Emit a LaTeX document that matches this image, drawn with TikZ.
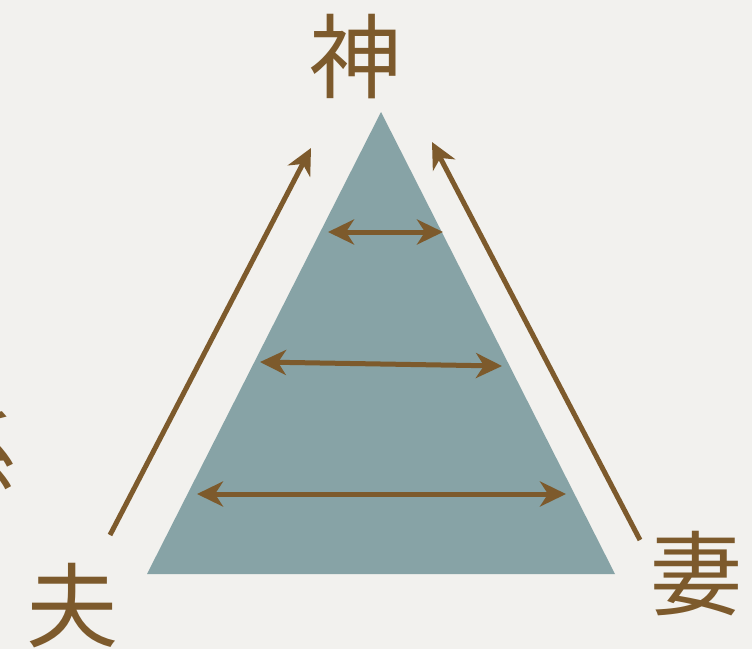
\documentclass[tikz,border=0pt]{standalone}
\usepackage{fontspec}
\newfontfamily\cjk{Noto Sans CJK JP}
\usetikzlibrary{arrows.meta}
\definecolor{bgc}{HTML}{F2F1EE}
\definecolor{tri}{HTML}{87A3A6}
\definecolor{brn}{HTML}{7D5A2C}
\tikzset{
  kanji/.style={text=brn, inner sep=0pt, font=\cjk\fontsize{92}{92}\selectfont},
  arr/.style={draw=brn, line width=5pt, -{Stealth[length=26pt,width=25pt,inset=8pt]}},
  darr/.style={draw=brn, line width=5pt, {Stealth[length=26pt,width=25pt,inset=8pt]}-{Stealth[length=26pt,width=25pt,inset=8pt]}}
}
\begin{document}
\begin{tikzpicture}[x=1pt,y=-1pt]
\fill[bgc] (0,0) rectangle (752,649);
\useasboundingbox (0,0) rectangle (752,649);
\begin{scope}
\clip (0,0) rectangle (752,649);
\node[kanji] (kei) at (-30,452) {係};
\node[kanji] (fu) at (73,606) {夫};
\end{scope}
\node[kanji] (kami) at (355,57) {神};
\node[kanji] (tsuma) at (696,574) {妻};
\coordinate (apex) at (381,112);
\coordinate (bl) at (147,574);
\coordinate (br) at (615,574);
\fill[tri] (apex) -- (bl) -- (br) -- cycle;
\coordinate (la) at (110,535);
\coordinate (lb) at (311,148);
\coordinate (ra) at (640,540);
\coordinate (rb) at (432,142);
\draw[arr] (la) -- (lb);
\draw[arr] (ra) -- (rb);
\coordinate (t1) at (328,232);
\coordinate (t2) at (443,232);
\coordinate (m1) at (260,362);
\coordinate (m2) at (502,366);
\coordinate (b1) at (197,494);
\coordinate (b2) at (566,494);
\draw[darr] (t1) -- (t2);
\draw[darr] (m1) -- (m2);
\draw[darr] (b1) -- (b2);
\end{tikzpicture}
\end{document}
